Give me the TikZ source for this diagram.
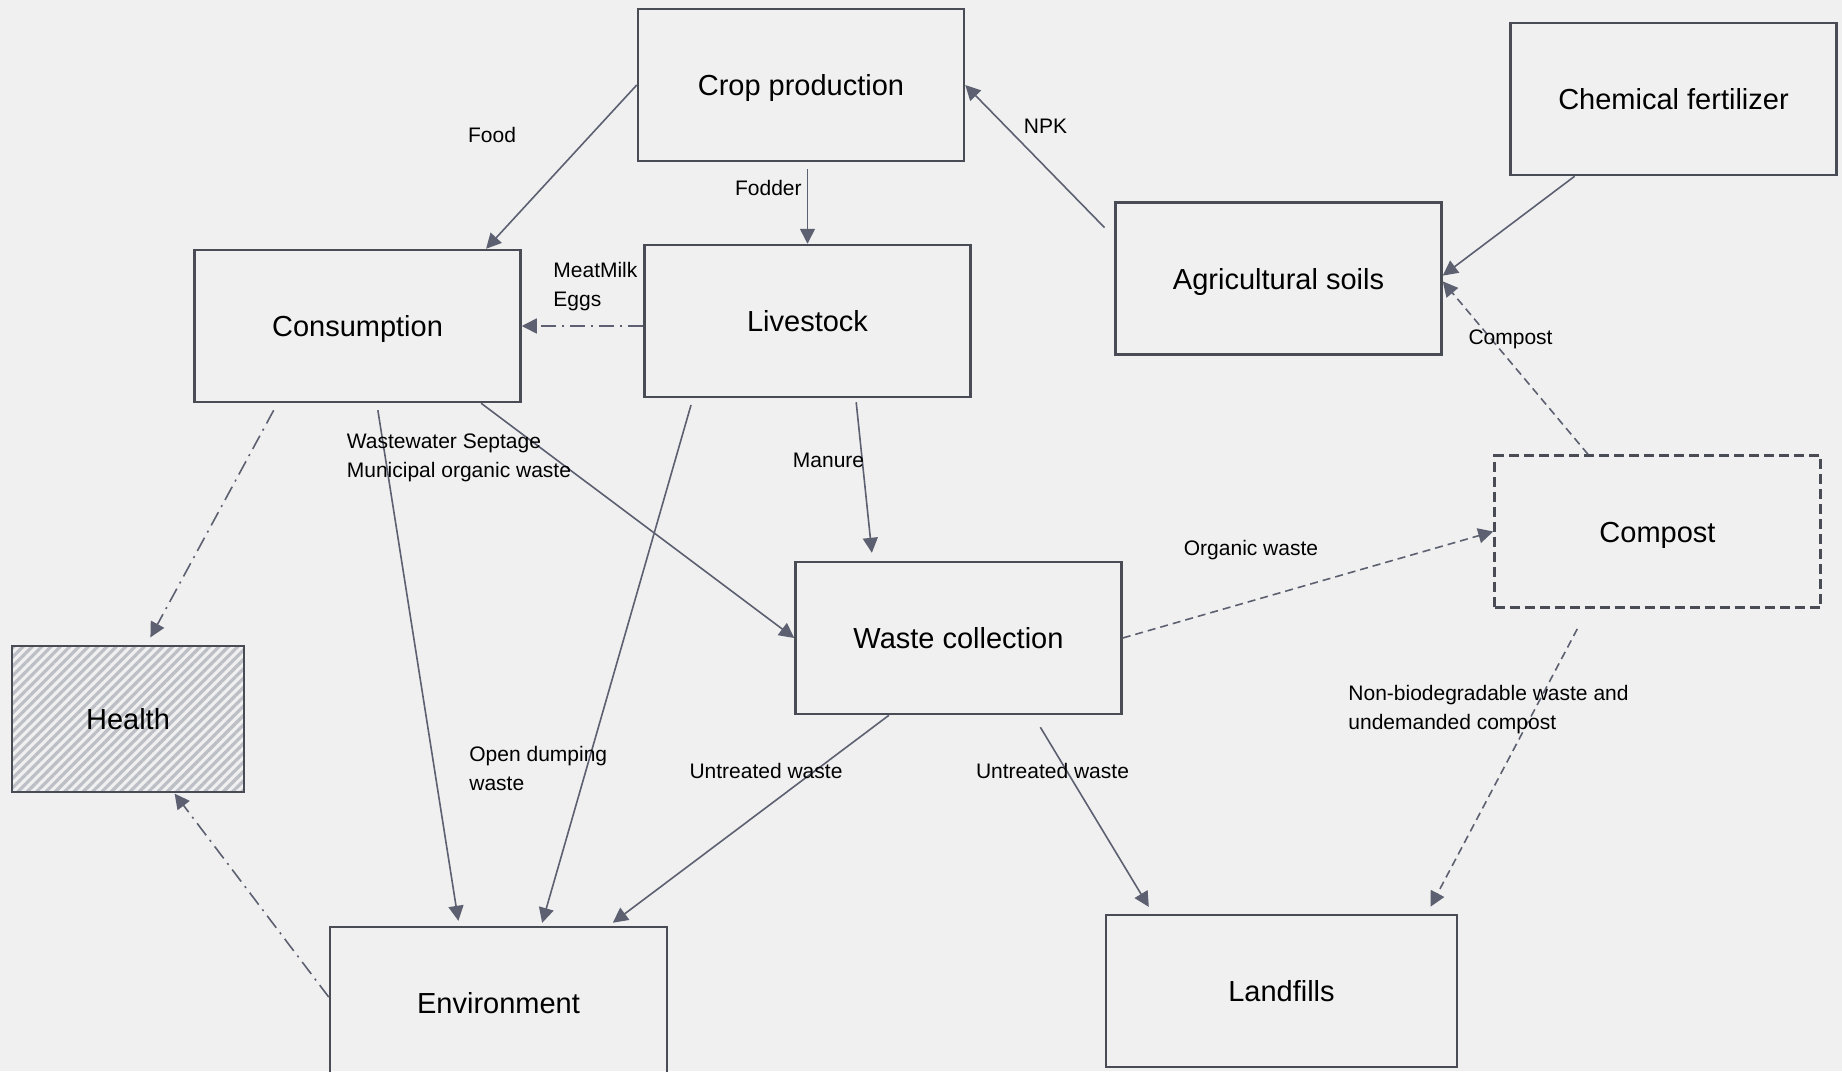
\documentclass[tikz,border=0pt]{standalone}
\usepackage{fontspec}
\setmainfont{Liberation Sans}
\usetikzlibrary{arrows.meta}
\usetikzlibrary{patterns.meta}

\definecolor{bgc}{HTML}{F0F0F0}
\definecolor{boxc}{HTML}{4A4C55}
\definecolor{linec}{HTML}{5C6070}
\definecolor{hatchc}{HTML}{BDBFC6}

\begin{document}
\begin{tikzpicture}[x=0.5pt,y=-0.5pt]
        \tikzset{vbox/.style = {shape=rectangle,draw=boxc,line width=1.25pt,minimum width=163pt,minimum height=76pt,inner sep=0pt,text height=10.5pt,text depth=0pt,font=\fontsize{14.5}{17}\selectfont}}
        \tikzset{edge/.style = {draw=linec,line width=0.8pt,-{Triangle[length=7.5pt,width=7.5pt]}}}
        \tikzset{dashededge/.style = {edge,dash pattern=on 4pt off 2.5pt}}
        \tikzset{dotedge/.style = {edge,dash pattern=on 7.5pt off 3pt on 1pt off 3pt}}
        \tikzset{elabel/.style = {font=\fontsize{10.5}{14.5}\selectfont,inner sep=0pt,align=left}}
        \tikzset{slabel/.style = {elabel,text height=7.6pt,text depth=0pt}}
        \fill[bgc] (0,0) rectangle (1842,1071);
        \useasboundingbox (0,0) rectangle (1842,1071);
        \node[vbox] (crop) at (801,85) {Crop production};
        \node[vbox] (chem) at (1673.5,99) {Chemical fertilizer};
        \node[vbox] (cons) at (357.5,326) {Consumption};
        \node[vbox] (live) at (807.5,321) {Livestock};
        \node[vbox] (soil) at (1278.5,278.5) {Agricultural soils};
        \node[vbox,dash pattern=on 5pt off 2.5pt] (compost) at (1657.5,531.5) {Compost};
        \node[vbox,minimum width=116pt,minimum height=73pt,pattern={Lines[angle=45,distance=3.3pt,line width=1.6pt]},pattern color=hatchc] (health) at (128,719) {Health};
        \node[vbox] (waste) at (958.5,638) {Waste collection};
        \node[vbox,minimum width=168.5pt] (env) at (498.5,1003) {Environment};
        \node[vbox,minimum width=175.5pt] (landfill) at (1281.5,991) {Landfills};
        \draw[edge] (crop.west) -- (cons.31);
        \draw[edge,shorten <=3.5pt] (live.north |- crop.south) -- (live.north);
        \draw[edge,shorten <=7pt] (soil.166) -- (crop.east);
        \draw[edge] (chem.-142.8) -- (soil.1);
        \draw[dashededge] (compost.132.3) -- (soil.-1);
        \draw[dotedge] (live.west |- cons.east) -- (cons.east);
        \draw[dotedge,shorten <=4pt,shorten >=4pt] (cons.-136.4) -- (health.76);
        \draw[dotedge] (env.178) -- (health.-58.6);
        \draw[edge,shorten <=3.5pt,shorten >=2.5pt] (cons.-76.9) -- (env.117);
        \draw[edge] (cons.-32.1) -- (waste.west);
        \draw[edge,shorten <=3.5pt,shorten >=1.5pt] (live.-146.3) -- (env.61.2);
        \draw[edge,shorten <=2pt,shorten >=4pt] (live.-58.2) -- (waste.138.3);
        \draw[dashededge] (waste.east) -- (compost.west);
        \draw[edge,shorten >=2.5pt] (waste.-132.7) -- (env.35.6);
        \draw[edge,shorten <=7pt,shorten >=4pt] (waste.-46.9) -- (landfill.149.9);
        \draw[dashededge,shorten <=11.4pt,shorten >=4pt] (compost.-132.5) -- (landfill.28.4);
        % flow labels
        \node[slabel] (food) at (492,135) {Food};
        \node[slabel,anchor=east] (fodder) at (802,188) {Fodder};
        \node[slabel] (npk) at (1045.5,126) {NPK};
        \node[slabel] (compostlbl) at (1510.5,337) {Compost};
        \node[elabel,anchor=west] (meat) at (553,286.5) {MeatMilk\\Eggs};
        \node[elabel,anchor=west] (wastewater) at (346.5,458) {Wastewater Septage\\Municipal organic waste};
        \node[slabel] (manure) at (828.5,460) {Manure};
        \node[elabel,anchor=west] (dumping) at (469,768) {Open dumping\\waste};
        \node[slabel] (untreatedl) at (766,771) {Untreated waste};
        \node[slabel] (untreatedr) at (1052.5,771) {Untreated waste};
        \node[slabel] (organic) at (1251,547.5) {Organic waste};
        \node[elabel,anchor=west] (nonbio) at (1348,710) {Non-biodegradable waste and\\undemanded compost};
    \end{tikzpicture}
\end{document}
